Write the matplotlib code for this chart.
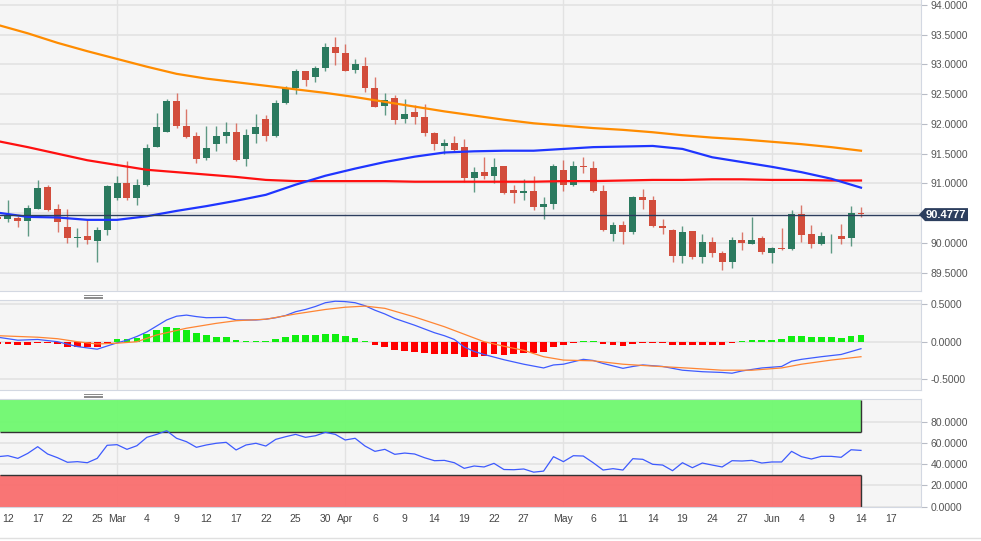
import matplotlib
matplotlib.use("Agg")
import matplotlib.pyplot as plt
from matplotlib.lines import Line2D
from matplotlib.patches import Polygon
from matplotlib.transforms import IdentityTransform
from matplotlib.ticker import FormatStrFormatter

plt.rcParams['font.family'] = ['Liberation Sans', 'DejaVu Sans']

# trading-day index, 0 = Feb 12 2021 (weekdays only)
days = list(range(-1, 87))

opens = [90.44, 90.40, 90.42, 90.37, 90.58, 90.94, 90.57, 90.27, 90.09, 90.12,
         90.03, 90.22, 90.75, 91.01, 90.76, 90.97, 91.62, 91.87, 92.38, 91.96,
         91.79, 91.43, 91.67, 91.80, 91.87, 91.41, 91.83, 92.09, 91.79, 92.35,
         92.60, 92.88, 92.78, 92.93, 93.29, 93.19, 92.91, 92.97, 92.60, 92.30,
         92.44, 92.08, 92.20, 92.11, 91.84, 91.63, 91.68, 91.61, 91.09, 91.19,
         91.13, 91.29, 90.89, 90.84, 90.87, 90.61, 90.66, 91.23, 90.97, 91.29,
         91.26, 90.87, 90.15, 90.30, 90.18, 90.78, 90.72, 90.29, 90.22, 89.78,
         90.20, 89.76, 90.02, 89.84, 89.68, 90.05, 89.99, 90.08, 89.84, 89.92,
         89.90, 90.48, 90.15, 89.98, 90.13, 90.12, 90.09, 90.50]
highs = [90.45, 90.73, 90.45, 90.64, 91.06, 90.98, 90.65, 90.57, 90.26, 90.41,
         90.27, 90.97, 91.13, 91.38, 91.07, 91.67, 92.19, 92.41, 92.52, 92.25,
         91.87, 91.97, 91.97, 92.03, 92.01, 91.91, 92.16, 92.15, 92.40, 92.63,
         92.92, 92.89, 92.97, 93.35, 93.45, 93.34, 93.09, 93.12, 92.79, 92.52,
         92.48, 92.42, 92.31, 92.33, 91.86, 91.75, 91.79, 91.75, 91.28, 91.44,
         91.42, 91.30, 90.97, 91.07, 91.13, 90.78, 91.33, 91.39, 91.38, 91.44,
         91.37, 90.97, 90.35, 90.37, 90.79, 90.90, 90.79, 90.41, 90.23, 90.28,
         90.21, 90.15, 90.10, 89.87, 90.11, 90.18, 90.43, 90.12, 89.93, 90.25,
         90.55, 90.64, 90.30, 90.18, 90.16, 90.32, 90.62, 90.60]
lows = [90.40, 90.36, 90.27, 90.12, 90.57, 90.54, 90.18, 90.00, 89.94, 89.98,
        89.69, 90.13, 90.72, 90.72, 90.64, 90.96, 91.61, 91.86, 91.93, 91.76,
        91.35, 91.40, 91.54, 91.68, 91.37, 91.30, 91.68, 91.71, 91.78, 92.34,
        92.50, 92.64, 92.71, 92.88, 92.99, 92.88, 92.85, 92.54, 92.28, 92.15,
        92.00, 92.02, 92.00, 91.79, 91.57, 91.50, 91.55, 91.03, 90.86, 91.08,
        91.00, 90.82, 90.68, 90.72, 90.55, 90.41, 90.58, 90.87, 90.96, 91.17,
        90.86, 90.20, 90.04, 89.98, 90.16, 90.58, 90.27, 90.15, 89.69, 89.66,
        89.74, 89.66, 89.76, 89.54, 89.59, 89.89, 89.98, 89.82, 89.67, 89.88,
        89.88, 90.02, 89.91, 89.97, 89.84, 89.98, 89.95, 90.43]
closes = [90.41, 90.46, 90.37, 90.59, 90.93, 90.55, 90.36, 90.09, 90.11, 90.05,
          90.22, 90.95, 91.00, 90.76, 90.97, 91.60, 91.95, 92.38, 91.97, 91.78,
          91.41, 91.60, 91.80, 91.87, 91.39, 91.82, 91.94, 91.80, 92.35, 92.60,
          92.88, 92.73, 92.93, 93.29, 93.19, 92.89, 93.01, 92.60, 92.29, 92.40,
          92.07, 92.17, 92.11, 91.84, 91.66, 91.68, 91.56, 91.10, 91.19, 91.12,
          91.28, 90.84, 90.84, 90.88, 90.61, 90.65, 91.29, 90.98, 91.29, 91.27,
          90.87, 90.22, 90.30, 90.18, 90.78, 90.73, 90.29, 90.25, 89.78, 90.19,
          89.76, 90.02, 89.83, 89.68, 90.05, 90.00, 90.05, 89.85, 89.92, 89.90,
          90.48, 90.13, 89.98, 90.12, 90.14, 90.07, 90.50, 90.48]
last_price = 90.4777

# moving averages, read every third trading day
ma_days = [-1, 2, 5, 8, 11, 14, 17, 20, 23, 26, 29, 32, 35, 38, 41,
           44, 47, 50, 53, 56, 59, 62, 65, 68, 71, 74, 77, 80, 83, 86]
ma200 = [93.66, 93.52, 93.36, 93.22, 93.09, 92.96, 92.84, 92.76, 92.70, 92.64,
         92.58, 92.52, 92.45, 92.37, 92.29, 92.21, 92.14, 92.07, 92.01, 91.97,
         91.93, 91.90, 91.86, 91.81, 91.77, 91.74, 91.70, 91.66, 91.61, 91.55]
ma100 = [91.71, 91.61, 91.50, 91.39, 91.31, 91.23, 91.19, 91.15, 91.11, 91.06,
         91.04, 91.04, 91.04, 91.04, 91.03, 91.03, 91.03, 91.03, 91.03, 91.04,
         91.04, 91.05, 91.06, 91.06, 91.07, 91.07, 91.06, 91.06, 91.05, 91.05]
ma50 = [90.51, 90.44, 90.43, 90.39, 90.39, 90.45, 90.54, 90.62, 90.71, 90.81,
        90.98, 91.13, 91.25, 91.36, 91.45, 91.52, 91.54, 91.55, 91.55, 91.58,
        91.61, 91.62, 91.63, 91.58, 91.44, 91.36, 91.28, 91.19, 91.08, 90.93]

# MACD histogram (one per day)
macd_hist = [-0.03, -0.03, -0.05, -0.04, -0.02, -0.02, -0.03, -0.065, -0.075, -0.075,
             -0.075, -0.02, 0.03, 0.035, 0.05, 0.10, 0.15, 0.19, 0.18, 0.16,
             0.11, 0.085, 0.065, 0.06, 0.02, 0.015, 0.015, 0.005, 0.03, 0.06,
             0.085, 0.085, 0.085, 0.10, 0.10, 0.07, 0.05, 0.005, -0.04, -0.065,
             -0.11, -0.125, -0.135, -0.155, -0.17, -0.17, -0.17, -0.20, -0.20, -0.19,
             -0.165, -0.175, -0.165, -0.155, -0.155, -0.14, -0.07, -0.045, -0.02, 0.005,
             0.005, -0.03, -0.04, -0.06, -0.025, -0.02, -0.02, -0.02, -0.045, -0.045,
             -0.045, -0.045, -0.04, -0.04, -0.02, 0.005, 0.02, 0.02, 0.025, 0.03,
             0.07, 0.07, 0.06, 0.06, 0.06, 0.055, 0.08, 0.09]

macd_days = [-1, 1, 3, 5, 7, 9, 11, 12, 13, 14, 15, 16, 17, 18, 19, 20, 22, 23, 25,
             26, 27, 28, 29, 30, 31, 32, 33, 34, 35, 36, 37, 38, 39, 41, 43, 44, 45,
             46, 47, 48, 50, 52, 54, 55, 56, 58, 59, 60, 62, 63, 64, 66, 68, 70, 72,
             73, 74, 76, 78, 79, 80, 82, 84, 86]
macd_line = [0.06, 0.02, 0.03, 0.00, -0.065, -0.10, -0.015, 0.02, 0.07, 0.13, 0.21,
             0.29, 0.34, 0.355, 0.335, 0.32, 0.325, 0.29, 0.29, 0.30, 0.32, 0.35,
             0.40, 0.43, 0.47, 0.52, 0.54, 0.535, 0.52, 0.48, 0.42, 0.37, 0.31, 0.22,
             0.12, 0.08, 0.03, -0.07, -0.13, -0.17, -0.24, -0.30, -0.35, -0.31, -0.30,
             -0.235, -0.25, -0.29, -0.355, -0.33, -0.31, -0.33, -0.38, -0.40, -0.41,
             -0.42, -0.39, -0.35, -0.33, -0.26, -0.235, -0.20, -0.17, -0.093]
signal_days = [-1, 3, 5, 7, 9, 11, 13, 15, 18, 21, 23, 26, 29, 32, 34, 36, 38, 41,
               44, 46, 48, 50, 52, 54, 56, 59, 62, 65, 69, 72, 75, 78, 80, 83, 86]
signal_line = [0.08, 0.06, 0.04, 0.0, -0.03, -0.02, 0.0, 0.09, 0.18, 0.245, 0.28,
               0.30, 0.37, 0.43, 0.46, 0.475, 0.445, 0.33, 0.20, 0.10, 0.0, -0.06,
               -0.115, -0.20, -0.245, -0.255, -0.30, -0.325, -0.355, -0.38, -0.38,
               -0.35, -0.30, -0.245, -0.20]

rsi = [47.1, 48.0, 45.5, 50.2, 56.5, 49.6, 46.1, 41.8, 42.4, 41.4,
       45.5, 57.8, 58.4, 54.0, 57.4, 65.3, 68.1, 71.5, 64.4, 61.2,
       55.9, 58.1, 59.7, 60.6, 53.4, 58.1, 59.7, 57.1, 63.4, 65.9,
       68.1, 65.3, 66.8, 70.0, 68.1, 62.8, 64.4, 57.1, 52.1, 54.0,
       49.3, 50.5, 49.6, 46.1, 43.3, 43.6, 41.4, 36.1, 38.3, 37.4,
       40.8, 35.0, 34.8, 35.5, 32.5, 33.5, 47.1, 42.4, 48.0, 47.7,
       41.4, 34.5, 35.8, 34.5, 45.2, 44.6, 39.9, 39.2, 33.9, 41.4,
       36.7, 41.1, 39.2, 37.4, 43.3, 43.0, 43.6, 41.1, 42.1, 42.1,
       52.1, 47.1, 44.9, 47.4, 47.4, 46.5, 53.6, 53.0]

price_ticks = [89.5, 90.0, 90.5, 91.0, 91.5, 92.0, 92.5, 93.0, 93.5, 94.0]
tick_days = [0, 3, 6, 9, 11, 14, 17, 20, 23, 26, 29, 32, 34, 37, 40, 43, 46, 49,
             52, 56, 59, 62, 65, 68, 71, 74, 77, 80, 83, 86, 89]
tick_labels = ['12', '17', '22', '25', 'Mar', '4', '9', '12', '17', '22', '25', '30',
               'Apr', '6', '9', '14', '19', '22', '27', 'May', '6', '11', '14', '19',
               '24', '27', 'Jun', '4', '9', '14', '17']
month_days = [11, 34, 56, 77]

UP = '#2b7a5f'
DOWN = '#d24d3c'
PANEL = '#f5f5f5'
GRID = '#e2e2e2'
BORDER = '#d3d8e2'
TXT = '#555555'
NAVY = '#2c3e5e'

W, H = 981, 541
fig = plt.figure(figsize=(W / 100, H / 100), dpi=100)


def px_axes(left, top, right, bottom):
    return fig.add_axes([left / W, 1 - bottom / H, (right - left) / W, (bottom - top) / H])


def style(a, top_spine=True):
    a.set_facecolor(PANEL)
    a.spines['left'].set_visible(False)
    a.spines['top'].set_visible(top_spine)
    for s in ('right', 'bottom', 'top'):
        a.spines[s].set_color(BORDER)
    a.yaxis.tick_right()
    a.tick_params(axis='y', length=4, color='#b8bcc6', labelsize=7.5, labelcolor=TXT, pad=3)
    a.tick_params(axis='x', length=0, labelbottom=False)
    a.set_xlim(-0.8, 92.05)
    a.yaxis.set_major_formatter(FormatStrFormatter('%.4f'))
    a.grid(axis='y', color=GRID, lw=1.2)
    a.set_axisbelow(True)
    for d in month_days:
        a.axvline(d, color=GRID, lw=1, zorder=0)


ax = px_axes(0, 0, 921, 291)
ax_macd = px_axes(0, 299.5, 921, 390)
ax_rsi = px_axes(0, 399, 921, 507)

# --- price panel
style(ax, top_spine=False)
cols = [UP if c >= o else DOWN for o, c in zip(opens, closes)]
ax.vlines(days, lows, highs, colors=cols, lw=1, alpha=0.75, zorder=2)
ax.bar(days, [abs(c - o) for o, c in zip(opens, closes)],
       bottom=[min(o, c) for o, c in zip(opens, closes)],
       width=0.7, color=cols, zorder=3)
ax.plot(ma_days, ma200, color='#ff8c00', lw=1.6, zorder=4)
ax.plot(ma_days, ma100, color='#ff1010', lw=1.6, zorder=4)
ax.plot(ma_days, ma50, color='#1f35ff', lw=1.6, zorder=4)
ax.axhline(last_price, color=NAVY, lw=1, zorder=5)
ax.set_ylim(89.196, 94.079)
ax.set_yticks(price_ticks)
# the tick label next to the price tag is covered by it, as in the original
ax.set_yticklabels(['' if abs(t - last_price) < 0.1 else '%.4f' % t for t in price_ticks])

# --- MACD panel
style(ax_macd)
hcols = ['#11ee11' if v >= 0 else '#ff0000' for v in macd_hist]
ax_macd.bar(days, macd_hist, width=0.68, color=hcols, zorder=2)
ax_macd.plot(macd_days, macd_line, color='#3e5bff', lw=0.9, zorder=3)
ax_macd.plot(signal_days, signal_line, color='#ff8533', lw=0.9, zorder=3)
ax_macd.set_ylim(-0.644, 0.563)
ax_macd.set_yticks([-0.5, 0.0, 0.5])

# --- RSI panel
style(ax_rsi)
x0, x1 = ax_rsi.get_xlim()[0], days[-1]
ax_rsi.fill_between([x0, x1], 70, 100, color='#6ff96f', alpha=0.95, lw=0, zorder=1)
ax_rsi.fill_between([x0, x1], 0, 30, color='#fa6e6e', alpha=0.95, lw=0, zorder=1)
ax_rsi.hlines([70, 30], x0, x1, color='#333333', lw=1, zorder=2)
ax_rsi.vlines([x1, x1], [70, 0], [100, 30], color='#333333', lw=1, zorder=2)
ax_rsi.plot(days, rsi, color='#3d5afe', lw=0.9, zorder=3)
ax_rsi.set_ylim(-0.3, 101.4)
ax_rsi.set_yticks([0, 20, 40, 60, 80])
ax_rsi.set_xticks(tick_days)
ax_rsi.set_xticklabels(tick_labels)
ax_rsi.tick_params(axis='x', labelbottom=True, labelsize=7.5, labelcolor='#444444', pad=5)

# current price tag
yd = ax.transData.transform((0, last_price))[1]
xd = ax.transAxes.transform((1, 0))[0]
hh = 6.5
tag = [(xd - 2, yd), (xd + 4, yd + hh), (xd + 47, yd + hh), (xd + 47, yd - hh), (xd + 4, yd - hh)]
fig.add_artist(Polygon(tag, closed=True, transform=IdentityTransform(), fc=NAVY, ec='none'))
fig.text((xd + 25) / W, yd / H, '%.4f' % last_price, color='white', fontsize=8,
         fontweight='bold', ha='center', va='center')

# panel resize handles
for yc in (296.5, 395.5):
    for dy in (-1.6, 0, 1.6):
        fig.add_artist(Line2D([84 / W, 102 / W], [1 - (yc + dy) / H] * 2, color='#8a8a8a', lw=0.7))
fig.add_artist(Line2D([0, 1], [1 - 538 / H] * 2, color='#e0e0e0', lw=1))

fig.savefig('out.png', dpi=100)
